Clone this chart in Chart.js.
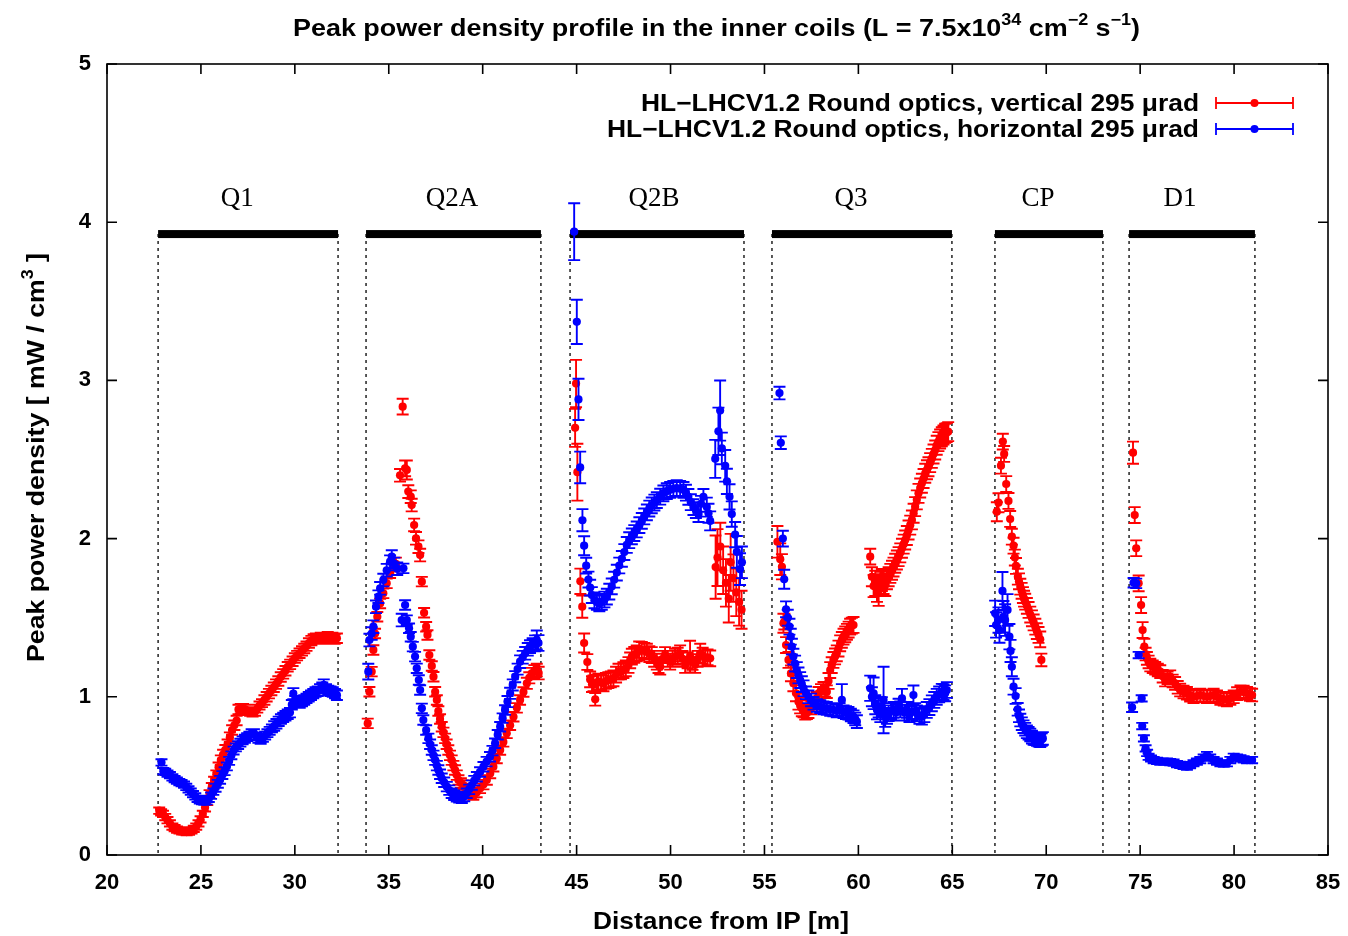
<!DOCTYPE html>
<html><head><meta charset="utf-8">
<script src="https://cdn.jsdelivr.net/npm/chart.js@4.4.1/dist/chart.umd.min.js"></script>
<style>html,body{margin:0;padding:0;background:#fff;}canvas{display:block;}</style>
</head><body>
<canvas id="c" width="1348" height="936"></canvas>
<script>
// ---------- DATA: [distance (m), peak power density (mW/cm3), error] ----------
const redQ1 = [[22.78,0.28,0.02],[22.88,0.27,0.02],[22.98,0.26,0.02],[23.1,0.24,0.02],[23.22,0.22,0.02],[23.35,0.2,0.02],[23.48,0.18,0.02],[23.6,0.17,0.02],[23.73,0.16,0.02],[23.86,0.155,0.02],[24.0,0.15,0.02],[24.12,0.148,0.02],[24.24,0.145,0.02],[24.37,0.148,0.02],[24.5,0.155,0.02],[24.62,0.165,0.02],[24.75,0.18,0.02],[24.87,0.2,0.02],[24.98,0.225,0.02],[25.1,0.26,0.02],[25.22,0.3,0.025],[25.34,0.34,0.025],[25.46,0.385,0.025],[25.58,0.43,0.025],[25.7,0.47,0.025],[25.82,0.51,0.025],[25.94,0.555,0.03],[26.06,0.6,0.03],[26.18,0.635,0.03],[26.3,0.665,0.03],[26.42,0.7,0.03],[26.54,0.745,0.03],[26.66,0.79,0.03],[26.78,0.82,0.03],[26.9,0.85,0.03],[27.0,0.92,0.03],[27.12,0.925,0.03],[27.24,0.925,0.03],[27.36,0.92,0.03],[27.5,0.91,0.025],[27.62,0.905,0.025],[27.75,0.9,0.025],[27.88,0.905,0.025],[28.0,0.925,0.025],[28.12,0.945,0.025],[28.25,0.96,0.025],[28.38,0.98,0.03],[28.5,1.0,0.03],[28.62,1.02,0.03],[28.75,1.04,0.03],[28.88,1.06,0.03],[29.0,1.08,0.03],[29.12,1.1,0.03],[29.25,1.125,0.03],[29.38,1.145,0.03],[29.5,1.165,0.03],[29.62,1.19,0.03],[29.75,1.205,0.03],[29.88,1.225,0.03],[30.0,1.245,0.03],[30.12,1.26,0.03],[30.25,1.275,0.03],[30.38,1.29,0.03],[30.5,1.305,0.03],[30.62,1.32,0.03],[30.75,1.34,0.03],[30.88,1.355,0.03],[31.0,1.365,0.03],[31.12,1.37,0.03],[31.25,1.37,0.03],[31.38,1.375,0.03],[31.5,1.365,0.03],[31.62,1.375,0.03],[31.75,1.38,0.03],[31.88,1.37,0.03],[32.0,1.375,0.03],[32.12,1.365,0.03],[32.24,1.37,0.03]];
const blueQ1 = [[22.9,0.585,0.02],[23.0,0.53,0.02],[23.1,0.525,0.02],[23.22,0.515,0.02],[23.35,0.505,0.02],[23.48,0.49,0.02],[23.6,0.48,0.02],[23.72,0.47,0.02],[23.85,0.46,0.02],[23.97,0.455,0.02],[24.1,0.445,0.02],[24.22,0.43,0.02],[24.34,0.415,0.02],[24.46,0.4,0.02],[24.58,0.385,0.02],[24.7,0.37,0.02],[24.82,0.355,0.02],[24.94,0.345,0.02],[25.06,0.34,0.02],[25.18,0.337,0.02],[25.3,0.34,0.02],[25.42,0.355,0.02],[25.54,0.375,0.02],[25.66,0.4,0.02],[25.78,0.425,0.025],[25.9,0.45,0.025],[26.02,0.475,0.025],[26.14,0.505,0.025],[26.26,0.53,0.025],[26.38,0.56,0.025],[26.5,0.595,0.025],[26.62,0.63,0.025],[26.74,0.66,0.025],[26.86,0.68,0.025],[26.98,0.695,0.025],[27.1,0.71,0.025],[27.22,0.725,0.025],[27.34,0.735,0.025],[27.46,0.745,0.025],[27.58,0.755,0.025],[27.7,0.77,0.025],[27.82,0.77,0.025],[27.94,0.75,0.025],[28.06,0.735,0.025],[28.18,0.728,0.025],[28.3,0.74,0.025],[28.42,0.755,0.025],[28.54,0.77,0.025],[28.66,0.785,0.025],[28.78,0.8,0.025],[28.9,0.815,0.03],[29.02,0.83,0.03],[29.14,0.845,0.03],[29.26,0.86,0.03],[29.38,0.87,0.03],[29.5,0.88,0.03],[29.62,0.89,0.03],[29.74,0.9,0.03],[29.84,0.95,0.03],[29.92,1.02,0.035],[30.02,0.975,0.03],[30.14,0.965,0.03],[30.26,0.96,0.03],[30.38,0.97,0.03],[30.5,0.98,0.03],[30.62,0.99,0.03],[30.74,1.0,0.03],[30.86,1.01,0.03],[30.98,1.02,0.03],[31.1,1.03,0.03],[31.22,1.035,0.03],[31.34,1.05,0.03],[31.46,1.06,0.03],[31.54,1.075,0.035],[31.66,1.05,0.03],[31.78,1.04,0.03],[31.9,1.035,0.03],[32.02,1.03,0.03],[32.14,1.02,0.03],[32.24,1.01,0.03]];
const redQ2A = [[33.88,0.832,0.03],[33.97,1.032,0.03],[34.09,1.159,0.03],[34.18,1.296,0.03],[34.27,1.4,0.03],[34.39,1.506,0.03],[34.54,1.59,0.03],[34.71,1.654,0.03],[34.89,1.717,0.03],[35.07,1.781,0.03],[35.24,1.822,0.03],[35.38,1.84,0.04],[35.6,2.4,0.04],[35.74,2.834,0.05],[35.87,2.444,0.05],[35.96,2.434,0.06],[36.04,2.297,0.04],[36.17,2.265,0.04],[36.22,2.212,0.04],[36.35,2.086,0.04],[36.45,2.002,0.04],[36.58,1.949,0.04],[36.67,1.896,0.04],[36.76,1.728,0.03],[36.88,1.531,0.03],[36.99,1.443,0.03],[37.06,1.391,0.03],[37.16,1.264,0.03],[37.29,1.195,0.03],[37.38,1.127,0.03],[37.47,1.032,0.03],[37.56,0.98,0.03],[37.64,0.91,0.03],[37.73,0.86,0.03],[37.82,0.811,0.03],[37.91,0.775,0.03],[38.0,0.737,0.03],[38.08,0.7,0.03],[38.17,0.664,0.03],[38.26,0.63,0.03],[38.35,0.6,0.03],[38.44,0.565,0.03],[38.53,0.537,0.03],[38.62,0.505,0.03],[38.71,0.474,0.03],[38.84,0.455,0.03],[38.97,0.442,0.03],[39.1,0.42,0.03],[39.24,0.4,0.03],[39.37,0.39,0.03],[39.5,0.379,0.03],[39.68,0.395,0.03],[39.86,0.421,0.03],[40.04,0.445,0.03],[40.22,0.474,0.03],[40.4,0.515,0.03],[40.57,0.558,0.03],[40.75,0.61,0.03],[40.93,0.664,0.03],[41.1,0.715,0.03],[41.28,0.769,0.03],[41.46,0.82,0.03],[41.64,0.874,0.03],[41.82,0.93,0.03],[41.99,0.98,0.03],[42.17,1.03,0.03],[42.35,1.085,0.035],[42.48,1.12,0.035],[42.61,1.148,0.035],[42.75,1.16,0.04],[42.88,1.169,0.04],[42.98,1.15,0.04]];
const blueQ2A = [[33.91,1.159,0.05],[33.97,1.359,0.04],[34.09,1.4,0.04],[34.18,1.443,0.04],[34.32,1.569,0.04],[34.45,1.633,0.04],[34.54,1.686,0.04],[34.71,1.738,0.04],[34.89,1.8,0.04],[35.07,1.854,0.04],[35.16,1.886,0.04],[35.3,1.84,0.04],[35.45,1.81,0.04],[35.69,1.485,0.04],[35.78,1.812,0.03],[35.87,1.58,0.03],[35.96,1.485,0.03],[36.08,1.433,0.03],[36.17,1.38,0.03],[36.28,1.317,0.03],[36.4,1.254,0.03],[36.49,1.18,0.03],[36.6,1.106,0.03],[36.67,1.043,0.03],[36.76,0.927,0.03],[36.84,0.853,0.03],[36.99,0.79,0.03],[37.11,0.737,0.03],[37.2,0.7,0.03],[37.29,0.664,0.03],[37.38,0.63,0.03],[37.47,0.6,0.03],[37.56,0.565,0.03],[37.64,0.537,0.03],[37.73,0.51,0.03],[37.82,0.485,0.03],[37.95,0.46,0.03],[38.09,0.432,0.03],[38.22,0.41,0.03],[38.35,0.39,0.03],[38.48,0.378,0.03],[38.62,0.368,0.03],[38.75,0.362,0.03],[38.89,0.358,0.03],[39.02,0.37,0.03],[39.15,0.39,0.03],[39.28,0.415,0.03],[39.42,0.442,0.03],[39.55,0.47,0.03],[39.69,0.495,0.03],[39.86,0.525,0.03],[40.04,0.558,0.03],[40.21,0.59,0.03],[40.39,0.621,0.03],[40.52,0.66,0.03],[40.66,0.706,0.03],[40.8,0.76,0.03],[40.93,0.811,0.03],[41.06,0.865,0.03],[41.19,0.917,0.03],[41.32,0.97,0.035],[41.46,1.022,0.035],[41.6,1.075,0.035],[41.73,1.127,0.035],[41.86,1.175,0.035],[41.99,1.222,0.04],[42.13,1.25,0.04],[42.26,1.275,0.04],[42.4,1.3,0.04],[42.52,1.317,0.04],[42.66,1.33,0.04],[42.79,1.338,0.05],[42.88,1.359,0.06],[42.97,1.34,0.05]];
const redQ2B = [[44.92,2.7,0.12],[44.97,2.98,0.15],[45.04,2.42,0.18],[45.2,1.73,0.08],[45.3,1.57,0.07],[45.4,1.34,0.06],[45.57,1.22,0.05],[45.72,1.11,0.05],[45.82,1.08,0.05],[45.9,1.085,0.05],[45.99,0.984,0.04],[46.08,1.09,0.05],[46.16,1.096,0.05],[46.3,1.09,0.05],[46.43,1.085,0.05],[46.56,1.1,0.05],[46.69,1.106,0.05],[46.82,1.11,0.05],[46.96,1.117,0.05],[47.1,1.14,0.05],[47.23,1.159,0.05],[47.36,1.16,0.05],[47.49,1.169,0.05],[47.62,1.18,0.05],[47.76,1.201,0.05],[47.85,1.23,0.05],[47.94,1.254,0.05],[48.07,1.265,0.05],[48.2,1.275,0.05],[48.33,1.29,0.06],[48.47,1.296,0.05],[48.6,1.29,0.05],[48.74,1.285,0.05],[48.87,1.27,0.05],[49.0,1.264,0.05],[49.13,1.24,0.05],[49.27,1.222,0.05],[49.36,1.2,0.05],[49.45,1.19,0.05],[49.58,1.24,0.05],[49.71,1.264,0.05],[49.85,1.24,0.05],[49.98,1.222,0.05],[50.11,1.24,0.05],[50.24,1.254,0.05],[50.38,1.26,0.05],[50.51,1.275,0.05],[50.64,1.24,0.05],[50.78,1.201,0.05],[50.91,1.23,0.05],[51.04,1.254,0.1],[51.17,1.22,0.05],[51.31,1.201,0.05],[51.44,1.24,0.05],[51.58,1.275,0.06],[51.71,1.26,0.05],[51.84,1.243,0.05],[51.97,1.25,0.05],[52.11,1.243,0.05],[52.4,1.82,0.2],[52.5,1.88,0.18],[52.65,1.95,0.15],[52.8,1.8,0.15],[52.95,1.72,0.15],[53.1,1.62,0.15],[53.2,1.85,0.18],[53.35,1.75,0.15],[53.5,1.66,0.15],[53.65,1.6,0.15],[53.78,1.55,0.12]];
const blueQ2B = [[44.87,3.94,0.18],[45.01,3.37,0.14],[45.1,2.88,0.13],[45.19,2.45,0.1],[45.31,2.116,0.07],[45.4,1.955,0.06],[45.51,1.829,0.05],[45.63,1.741,0.05],[45.72,1.69,0.05],[45.81,1.643,0.05],[45.95,1.61,0.05],[46.08,1.6,0.05],[46.21,1.59,0.05],[46.34,1.6,0.05],[46.48,1.615,0.05],[46.61,1.633,0.05],[46.74,1.665,0.05],[46.87,1.698,0.05],[47.0,1.74,0.05],[47.14,1.785,0.05],[47.27,1.83,0.05],[47.41,1.872,0.05],[47.54,1.915,0.05],[47.67,1.96,0.05],[47.8,1.99,0.05],[47.94,2.014,0.05],[48.07,2.035,0.05],[48.2,2.058,0.05],[48.34,2.085,0.05],[48.47,2.112,0.05],[48.6,2.14,0.05],[48.74,2.166,0.05],[48.87,2.19,0.05],[49.0,2.21,0.05],[49.14,2.228,0.05],[49.27,2.243,0.05],[49.45,2.265,0.05],[49.62,2.286,0.05],[49.8,2.3,0.05],[49.98,2.308,0.05],[50.15,2.315,0.05],[50.33,2.319,0.05],[50.51,2.315,0.05],[50.69,2.308,0.05],[50.82,2.29,0.05],[50.95,2.264,0.05],[51.08,2.23,0.05],[51.22,2.199,0.05],[51.35,2.18,0.05],[51.49,2.155,0.05],[51.62,2.22,0.05],[51.75,2.264,0.05],[51.93,2.199,0.06],[52.02,2.16,0.06],[52.11,2.112,0.06],[52.38,2.504,0.12],[52.55,2.678,0.15],[52.64,2.809,0.19],[52.73,2.57,0.1],[52.91,2.46,0.1],[53.0,2.362,0.08],[53.14,2.264,0.08],[53.26,2.155,0.08],[53.44,2.025,0.08],[53.53,1.916,0.1],[53.7,1.807,0.1],[53.8,1.85,0.1]];
const redQ3 = [[55.69,1.98,0.1],[55.84,1.87,0.1],[55.93,1.822,0.08],[56.01,1.465,0.06],[56.06,1.475,0.05],[56.15,1.327,0.05],[56.28,1.233,0.05],[56.41,1.148,0.05],[56.54,1.085,0.05],[56.68,1.022,0.05],[56.81,0.969,0.05],[56.9,0.945,0.05],[56.99,0.927,0.05],[57.08,0.91,0.04],[57.17,0.896,0.04],[57.26,0.9,0.04],[57.34,0.906,0.04],[57.5,0.93,0.04],[57.65,0.96,0.04],[57.78,0.99,0.04],[57.88,1.022,0.04],[58.01,1.04,0.04],[58.14,1.054,0.04],[58.23,1.04,0.04],[58.32,1.032,0.04],[58.41,1.1,0.05],[58.5,1.169,0.05],[58.58,1.2,0.05],[58.67,1.233,0.05],[58.76,1.255,0.05],[58.85,1.275,0.05],[58.94,1.305,0.05],[59.03,1.338,0.05],[59.12,1.36,0.05],[59.21,1.38,0.05],[59.3,1.395,0.05],[59.39,1.411,0.05],[59.48,1.425,0.05],[59.56,1.443,0.05],[59.65,1.45,0.05],[59.74,1.454,0.05],[60.63,1.886,0.05],[60.72,1.759,0.06],[60.81,1.7,0.07],[60.9,1.717,0.08],[60.99,1.68,0.08],[61.08,1.675,0.1],[61.17,1.72,0.07],[61.25,1.738,0.07],[61.34,1.72,0.07],[61.43,1.707,0.07],[61.52,1.74,0.06],[61.61,1.759,0.06],[61.7,1.78,0.06],[61.79,1.8,0.06],[61.87,1.82,0.06],[61.96,1.844,0.06],[62.05,1.865,0.06],[62.14,1.886,0.06],[62.23,1.91,0.06],[62.32,1.939,0.06],[62.41,1.965,0.06],[62.49,1.991,0.06],[62.58,2.02,0.06],[62.67,2.054,0.06],[62.76,2.085,0.06],[62.85,2.118,0.06],[62.94,2.16,0.06],[63.02,2.202,0.06],[63.11,2.245,0.06],[63.2,2.286,0.06],[63.29,2.32,0.06],[63.38,2.35,0.06],[63.47,2.38,0.06],[63.56,2.413,0.06],[63.65,2.435,0.06],[63.73,2.454,0.06],[63.82,2.48,0.06],[63.91,2.507,0.06],[64.0,2.535,0.06],[64.09,2.56,0.06],[64.17,2.59,0.06],[64.26,2.613,0.06],[64.35,2.63,0.06],[64.44,2.644,0.06],[64.53,2.655,0.06],[64.62,2.666,0.06],[64.7,2.67,0.06],[64.78,2.676,0.06]];
const blueQ3 = [[55.8,2.92,0.04],[55.87,2.606,0.04],[55.98,2.0,0.05],[56.05,1.743,0.06],[56.15,1.553,0.05],[56.24,1.5,0.05],[56.33,1.443,0.05],[56.4,1.38,0.05],[56.46,1.317,0.05],[56.54,1.254,0.05],[56.63,1.21,0.05],[56.72,1.169,0.05],[56.81,1.135,0.05],[56.9,1.106,0.05],[56.99,1.08,0.05],[57.08,1.054,0.05],[57.21,1.025,0.04],[57.34,1.0,0.04],[57.48,0.98,0.04],[57.61,0.959,0.04],[57.79,0.945,0.04],[57.97,0.938,0.04],[58.14,0.93,0.04],[58.32,0.927,0.04],[58.5,0.92,0.04],[58.67,0.917,0.04],[58.85,0.91,0.04],[59.0,0.92,0.04],[59.12,0.98,0.1],[59.21,0.906,0.04],[59.34,0.9,0.04],[59.47,0.896,0.04],[59.6,0.885,0.04],[59.74,0.874,0.04],[59.83,0.86,0.04],[59.92,0.843,0.04],[60.63,1.054,0.08],[60.72,1.0,0.06],[60.81,1.022,0.1],[60.9,0.95,0.06],[60.99,0.917,0.06],[61.08,0.93,0.06],[61.17,0.9,0.06],[61.25,0.938,0.06],[61.34,0.98,0.21],[61.43,0.87,0.06],[61.52,0.88,0.05],[61.61,0.896,0.05],[61.74,0.91,0.05],[61.87,0.917,0.05],[62.0,0.9,0.05],[62.14,0.938,0.05],[62.23,0.92,0.05],[62.32,0.99,0.06],[62.45,0.9,0.05],[62.58,0.917,0.05],[62.72,0.89,0.05],[62.85,0.905,0.05],[62.93,1.011,0.06],[63.02,0.91,0.05],[63.11,0.896,0.05],[63.25,0.88,0.05],[63.38,0.874,0.05],[63.51,0.89,0.05],[63.64,0.917,0.05],[63.78,0.935,0.05],[63.91,0.959,0.05],[64.04,0.98,0.05],[64.17,1.0,0.05],[64.3,1.015,0.05],[64.44,1.032,0.05],[64.53,1.03,0.05],[64.62,1.022,0.05],[64.71,1.043,0.05]];
const redCP = [[67.37,2.17,0.06],[67.46,2.227,0.06],[67.59,2.461,0.05],[67.69,2.613,0.05],[67.76,2.535,0.05],[67.87,2.345,0.05],[67.99,2.238,0.05],[68.08,2.124,0.05],[68.17,2.012,0.05],[68.26,1.955,0.05],[68.33,1.88,0.05],[68.39,1.827,0.05],[68.49,1.759,0.05],[68.55,1.73,0.05],[68.62,1.696,0.05],[68.69,1.67,0.05],[68.76,1.643,0.05],[68.82,1.62,0.05],[68.88,1.601,0.05],[68.97,1.575,0.05],[69.06,1.549,0.05],[69.15,1.52,0.05],[69.24,1.496,0.05],[69.33,1.47,0.05],[69.42,1.443,0.05],[69.5,1.415,0.05],[69.59,1.391,0.05],[69.68,1.363,0.05],[69.74,1.233,0.04]];
const blueCP = [[67.28,1.528,0.08],[67.33,1.454,0.08],[67.46,1.485,0.08],[67.51,1.422,0.08],[67.67,1.669,0.12],[67.72,1.506,0.1],[67.81,1.485,0.1],[67.94,1.549,0.1],[68.04,1.38,0.08],[68.1,1.29,0.07],[68.17,1.19,0.06],[68.26,1.064,0.05],[68.37,1.005,0.05],[68.48,0.921,0.04],[68.55,0.88,0.04],[68.62,0.853,0.04],[68.7,0.83,0.04],[68.79,0.811,0.04],[68.88,0.795,0.04],[68.97,0.779,0.04],[69.06,0.77,0.04],[69.15,0.759,0.04],[69.24,0.745,0.04],[69.33,0.737,0.04],[69.42,0.735,0.04],[69.51,0.731,0.04],[69.6,0.725,0.04],[69.68,0.722,0.04],[69.76,0.73,0.04],[69.82,0.737,0.04]];
const redD1 = [[74.62,2.543,0.07],[74.71,2.149,0.05],[74.79,1.939,0.05],[74.92,1.717,0.05],[75.05,1.58,0.05],[75.13,1.422,0.05],[75.22,1.317,0.05],[75.29,1.27,0.04],[75.36,1.243,0.04],[75.45,1.22,0.04],[75.54,1.201,0.04],[75.67,1.19,0.04],[75.8,1.18,0.04],[75.94,1.17,0.04],[76.07,1.159,0.04],[76.2,1.13,0.04],[76.33,1.106,0.04],[76.46,1.12,0.04],[76.6,1.127,0.04],[76.73,1.1,0.04],[76.86,1.085,0.04],[77.0,1.06,0.04],[77.13,1.043,0.04],[77.31,1.03,0.04],[77.49,1.022,0.04],[77.66,1.01,0.04],[77.84,1.0,0.04],[78.02,1.005,0.04],[78.2,1.011,0.04],[78.38,1.005,0.04],[78.56,1.0,0.04],[78.73,1.005,0.04],[78.91,1.011,0.04],[79.09,1.0,0.04],[79.27,0.99,0.04],[79.45,0.985,0.04],[79.62,0.98,0.04],[79.8,0.99,0.04],[79.98,1.0,0.04],[80.16,1.02,0.04],[80.34,1.032,0.04],[80.51,1.03,0.04],[80.69,1.022,0.04],[80.85,1.015,0.04],[80.96,1.011,0.04]];
const blueD1 = [[74.57,0.934,0.03],[74.65,1.721,0.03],[74.79,1.717,0.03],[74.92,1.264,0.02],[75.08,0.99,0.02],[75.11,0.815,0.02],[75.2,0.737,0.02],[75.29,0.674,0.02],[75.37,0.645,0.02],[75.45,0.621,0.02],[75.58,0.61,0.02],[75.72,0.6,0.02],[75.9,0.595,0.02],[76.07,0.59,0.02],[76.25,0.59,0.02],[76.43,0.59,0.02],[76.6,0.587,0.02],[76.78,0.584,0.02],[76.96,0.575,0.02],[77.13,0.569,0.02],[77.31,0.563,0.02],[77.49,0.558,0.02],[77.66,0.568,0.02],[77.84,0.58,0.02],[78.02,0.59,0.02],[78.2,0.6,0.02],[78.38,0.615,0.02],[78.56,0.632,0.02],[78.73,0.615,0.02],[78.91,0.6,0.02],[79.09,0.59,0.02],[79.27,0.58,0.02],[79.45,0.578,0.02],[79.62,0.58,0.02],[79.8,0.6,0.02],[79.98,0.621,0.02],[80.16,0.615,0.02],[80.34,0.611,0.02],[80.51,0.605,0.02],[80.69,0.6,0.02],[80.85,0.6,0.02],[80.96,0.6,0.02]];

const magnetNames  = ['Q1', 'Q2A', 'Q2B', 'Q3', 'CP', 'D1'];
const magnetStart  = [22.72, 33.79, 44.65, 55.40, 67.27, 74.41];
const magnetEnd    = [32.30, 43.10, 53.91, 64.98, 73.02, 81.11];
const magnetLabelX = [26.93, 38.37, 49.12, 59.61, 69.56, 77.12];
const magnetLevel  = 3.925;
const magnetLabelY = 4.15;

const xTicks = [20, 25, 30, 35, 40, 45, 50, 55, 60, 65, 70, 75, 80, 85];
const yTicks = [0, 1, 2, 3, 4, 5];

const seriesRedLabel  = 'HL\u2212LHCV1.2 Round optics, vertical 295 \u03bcrad';
const seriesBlueLabel = 'HL\u2212LHCV1.2 Round optics, horizontal 295 \u03bcrad';
const titleParts = [['Peak power density profile in the inner coils (L = 7.5x10', 0], ['34', 1], [' cm', 0], ['\u22122', 1], [' s', 0], ['\u22121', 1], [')', 0]];
const yTitleParts = [['Peak power density [ mW / cm', 0], ['3', 1], [' ]', 0]];
const xTitleParts = [['Distance from IP [m]', 0]];

// ---------- build ----------
const redAll  = [].concat(redQ1, redQ2A, redQ2B, redQ3, redCP, redD1);
const blueAll = [].concat(blueQ1, blueQ2A, blueQ2B, blueQ3, blueCP, blueD1);
const toPts = a => a.map(p => ({x: p[0], y: p[1]}));
const toErr = a => a.map(p => p[2]);
const RED = '#ff0000', BLUE = '#0000ff';
const FAM = "'Liberation Sans', Arial, Helvetica, sans-serif";

function drawRich(ctx, parts, x, y, size, targetW, align, rot) {
  ctx.save();
  ctx.translate(x, y);
  if (rot) ctx.rotate(rot);
  const sup = Math.round(size * 0.68);
  let w = 0;
  const ws = parts.map(([t, s]) => { ctx.font = `bold ${s ? sup : size}px ${FAM}`; const m = ctx.measureText(t).width; w += m; return m; });
  const sx = targetW ? targetW / w : 1;
  ctx.scale(sx, 1);
  let cx = align === 'center' ? -w / 2 : (align === 'right' ? -w : 0);
  ctx.fillStyle = '#000'; ctx.textAlign = 'left'; ctx.textBaseline = 'alphabetic';
  parts.forEach(([t, s], i) => {
    ctx.font = `bold ${s ? sup : size}px ${FAM}`;
    ctx.fillText(t, cx, s ? -size * 0.45 : 0);
    cx += ws[i];
  });
  ctx.restore();
}

function errBar(ctx, px, y1, y2, cap) {
  ctx.moveTo(px, y1); ctx.lineTo(px, y2);
  ctx.moveTo(px - cap, y1); ctx.lineTo(px + cap, y1);
  ctx.moveTo(px - cap, y2); ctx.lineTo(px + cap, y2);
}

const decor = {
  id: 'decor',
  beforeDatasetsDraw(chart) {
    const {ctx, scales: {x, y}, chartArea: a} = chart;
    ctx.save();
    const yb = y.getPixelForValue(magnetLevel);
    magnetNames.forEach((n, i) => {
      const x1 = x.getPixelForValue(magnetStart[i]), x2 = x.getPixelForValue(magnetEnd[i]);
      ctx.strokeStyle = '#000'; ctx.lineWidth = 1.3; ctx.setLineDash([3, 4]);
      ctx.beginPath();
      ctx.moveTo(x1, yb); ctx.lineTo(x1, a.bottom);
      ctx.moveTo(x2, yb); ctx.lineTo(x2, a.bottom);
      ctx.stroke();
      ctx.setLineDash([]);
      ctx.fillStyle = '#000';
      ctx.fillRect(x1, yb - 4, x2 - x1, 8);
      ctx.font = `27px 'Liberation Serif', 'Times New Roman', serif`;
      ctx.textAlign = 'center'; ctx.textBaseline = 'middle';
      ctx.fillText(n, x.getPixelForValue(magnetLabelX[i]), y.getPixelForValue(magnetLabelY));
    });
    ctx.restore();
  },
  beforeDatasetDraw(chart, args) {
    const ds = chart.data.datasets[args.index];
    if (!ds.errs) return;
    const {ctx, scales: {x, y}} = chart;
    ctx.save();
    ctx.strokeStyle = ds.borderColor; ctx.lineWidth = 1.9;
    ctx.beginPath();
    ds.data.forEach((p, j) => {
      const px = x.getPixelForValue(p.x);
      errBar(ctx, px, y.getPixelForValue(p.y - ds.errs[j]), y.getPixelForValue(p.y + ds.errs[j]), 6);
    });
    ctx.stroke();
    ctx.restore();
  },
  afterDraw(chart) {
    const {ctx, scales: {x, y}, chartArea: a} = chart;
    ctx.save();
    ctx.strokeStyle = '#000'; ctx.lineWidth = 1.6;
    ctx.strokeRect(a.left, a.top, a.right - a.left, a.bottom - a.top);
    ctx.beginPath();
    xTicks.forEach(v => { const px = x.getPixelForValue(v); ctx.moveTo(px, a.bottom); ctx.lineTo(px, a.bottom - 10); ctx.moveTo(px, a.top); ctx.lineTo(px, a.top + 10); });
    yTicks.forEach(v => { const py = y.getPixelForValue(v); ctx.moveTo(a.left, py); ctx.lineTo(a.left + 10, py); ctx.moveTo(a.right, py); ctx.lineTo(a.right - 10, py); });
    ctx.stroke();
    // titles
    drawRich(ctx, titleParts, 716.5, 36, 24, 847, 'center');
    drawRich(ctx, xTitleParts, 721, 929, 24, 256, 'center');
    drawRich(ctx, yTitleParts, 44, 457.5, 24, 409, 'center', -Math.PI / 2);
    // legend
    drawRich(ctx, [[seriesRedLabel, 0]], 1199, 111, 24, 558, 'right');
    drawRich(ctx, [[seriesBlueLabel, 0]], 1199, 137, 24, 592, 'right');
    [[RED, 103], [BLUE, 129]].forEach(([c, ly]) => {
      ctx.strokeStyle = c; ctx.fillStyle = c; ctx.lineWidth = 1.8;
      ctx.beginPath();
      ctx.moveTo(1216, ly); ctx.lineTo(1293, ly);
      ctx.moveTo(1216, ly - 6); ctx.lineTo(1216, ly + 6);
      ctx.moveTo(1293, ly - 6); ctx.lineTo(1293, ly + 6);
      ctx.stroke();
      ctx.beginPath(); ctx.arc(1254.5, ly, 4, 0, Math.PI * 2); ctx.fill();
    });
    ctx.restore();
  }
};

new Chart(document.getElementById('c'), {
  type: 'scatter',
  data: {
    datasets: [
      {label: seriesBlueLabel, data: toPts(blueAll), errs: toErr(blueAll), backgroundColor: BLUE, borderColor: BLUE, pointRadius: 4.1, pointBorderWidth: 0, showLine: false},
      {label: seriesRedLabel, data: toPts(redAll), errs: toErr(redAll), backgroundColor: RED, borderColor: RED, pointRadius: 4.1, pointBorderWidth: 0, showLine: false}
    ]
  },
  options: {
    responsive: false, animation: false, events: [],
    layout: {padding: {top: 64, right: 20, left: 0, bottom: 0}},
    plugins: {legend: {display: false}, tooltip: {enabled: false}, title: {display: false}},
    scales: {
      x: {type: 'linear', min: 20, max: 85,
          afterFit(s) { s.height = 81; s.paddingLeft = 0; s.paddingRight = 0; },
          afterBuildTicks(s) { s.ticks = xTicks.map(v => ({value: v})); },
          grid: {display: false, drawTicks: false}, border: {display: false},
          ticks: {color: '#000', font: {family: FAM, size: 22, weight: 'bold'}, padding: 15, maxRotation: 0, autoSkip: false}},
      y: {type: 'linear', min: 0, max: 5,
          afterFit(s) { s.width = 107; s.paddingTop = 0; s.paddingBottom = 0; },
          afterBuildTicks(s) { s.ticks = yTicks.map(v => ({value: v})); },
          grid: {display: false, drawTicks: false}, border: {display: false},
          ticks: {color: '#000', font: {family: FAM, size: 22, weight: 'bold'}, padding: 16}}
    }
  },
  plugins: [decor]
});
</script>
</body></html>
